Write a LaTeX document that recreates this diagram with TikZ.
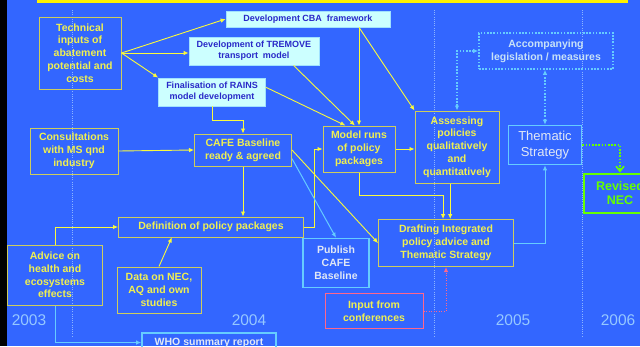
\documentclass[tikz,border=0pt]{standalone}
\usepackage{fontspec}
\setmainfont{Liberation Sans}
\usetikzlibrary{arrows.meta,calc}

\definecolor{bgblue}{RGB}{51,102,255}
\definecolor{txtyellow}{RGB}{240,240,80}
\definecolor{boxyellow}{RGB}{205,205,95}
\definecolor{linkyellow}{RGB}{250,250,60}
\definecolor{cyanfill}{RGB}{204,255,255}
\definecolor{cyanline}{RGB}{160,225,255}
\definecolor{cyantext}{RGB}{40,40,200}
\definecolor{skyline}{RGB}{102,204,255}
\definecolor{paletext}{RGB}{225,232,245}
\definecolor{necgreen}{RGB}{102,255,0}
\definecolor{confpink}{RGB}{255,102,140}
\definecolor{guideblue}{RGB}{140,180,255}
\definecolor{yearblue}{RGB}{150,200,255}

\tikzset{
  yellowbox/.style={draw=boxyellow,line width=1pt,text=txtyellow,align=center,inner sep=0pt,
    font=\bfseries\fontsize{10.5}{12.8}\selectfont},
  cyanbox/.style={draw=cyanline,fill=cyanfill,line width=0.8pt,text=cyantext,align=center,inner sep=0pt,
    font=\bfseries\fontsize{9}{11}\selectfont},
  skybox/.style={draw=skyline,line width=1.6pt,text=paletext,align=center,inner sep=0pt,
    font=\bfseries\fontsize{10.5}{12.8}\selectfont},
  year/.style={text=yearblue,font=\fontsize{15.5}{16}\selectfont,inner sep=0pt},
  ylink/.style={draw=linkyellow,line width=0.9pt},
  slink/.style={draw=skyline,line width=1pt},
  dotlink/.style={line width=1.6pt,dash pattern=on 1.6pt off 1.6pt}
}

\begin{document}
\begin{tikzpicture}[x=1pt,y=-1pt,>={Latex[length=5pt,width=4.5pt]}]
\clip(0,0)rectangle(640,346);
\fill[bgblue](0,0)rectangle(640,346);
\fill[black](0,0)rectangle(7,346);
\fill[yellow](37,-5)rectangle(628,3);
% year guides
\foreach\gx in{72,434,582}
  \draw[guideblue,line width=0.6pt,dash pattern=on 0.6pt off 1.6pt](\gx,10)--(\gx,336);
% boxes
\node(technical)at(80,53)[yellowbox,minimum width=82,minimum height=72]{Technical\\inputs of\\abatement\\potential and\\costs};
\node(cba)at(308,19)[cyanbox,minimum width=164,minimum height=16]{Development CBA\ \ framework};
\node(tremove)at(254,51)[cyanbox,minimum width=130,minimum height=28]{Development of TREMOVE\\transport\ \ model};
\node(rains)at(212,92)[cyanbox,minimum width=107,minimum height=28]{Finalisation of RAINS\\model development};
\node(consult)at(74,151)[yellowbox,minimum width=88,minimum height=46]{Consultations\\with MS qnd\\industry};
\node(cafe)at(243,150)[yellowbox,minimum width=97,minimum height=32]{CAFE Baseline\\ready \& agreed};
\node(modelruns)at(359,149)[yellowbox,minimum width=72,minimum height=46]{Model runs\\of policy\\packages};
\node(assess)at(457,147)[yellowbox,minimum width=84,minimum height=72]{Assessing\\policies\\qualitatively\\and\\quantitatively};
\node(accomp)at(546,51)[draw=skyline,dotlink,text=paletext!80!skyline,align=center,inner sep=0pt,
  font=\bfseries\fontsize{10.5}{13}\selectfont,minimum width=134,minimum height=36]{Accompanying\\legislation / measures};
\node(thematic)at(545,145)[skybox,font=\fontsize{13}{16}\selectfont,minimum width=73,minimum height=39]{Thematic\\Strategy};
\node(revised)at(620,193)[draw=necgreen,line width=2pt,text=necgreen,align=center,inner sep=0pt,
  font=\bfseries\fontsize{12.5}{14.5}\selectfont,minimum width=72,minimum height=39]{Revised\\NEC};
\node(definition)at(211,227)[yellowbox,minimum width=185,minimum height=20]{Definition of policy packages};
\node(advice)at(55,275)[yellowbox,minimum width=95,minimum height=60]{Advice on\\health and\\ecosystems\\effects};
\node(data)at(159,290)[yellowbox,minimum width=84,minimum height=46]{Data on NEC,\\AQ and own\\studies};
\node(publish)at(336,263)[skybox,minimum width=66,minimum height=49]{Publish\\CAFE\\Baseline};
\node(drafting)at(446,243)[yellowbox,font=\bfseries\fontsize{10.5}{12.7}\selectfont,minimum width=135,minimum height=47]{Drafting Integrated\\policy advice and\\Thematic Strategy};
\node(input)at(374,311)[yellowbox,draw=confpink,minimum width=98,minimum height=35]{Input from\\conferences};
\node(who)at(209,332)[skybox,anchor=north,inner xsep=0pt,inner ysep=5pt,minimum width=134]{WHO summary report};
% years
\node(y2003)at(29,320)[year]{2003};
\node(y2004)at(249,320)[year]{2004};
\node(y2005)at(513,320)[year]{2005};
\node(y2006)at(618,320)[year]{2006};
% links
\draw[ylink,->](technical.east)--(cba.west);
\draw[ylink,->](technical.east)--(tremove.west|-technical.east);
\draw[ylink,->](technical.east)--(rains.north west);
\draw[ylink,->](rains.south)--++(0,14)-|(cafe.north);
\draw[ylink,->](consult.east)--(cafe.west);
\draw[ylink,->](cafe.south)--(cafe.south|-definition.north);
\draw[ylink,->](definition.east)--++(10,0)|-(modelruns.west);
\draw[ylink,->](cba.south-|modelruns.north)--(modelruns.north);
\draw[ylink,->](cba.south-|modelruns.north)--(assess.north west);
\draw[ylink,->](tremove.-20)--(modelruns.100);
\draw[ylink,->](rains.5)--(modelruns.120);
\draw[ylink,->](modelruns.east)--(assess.west|-modelruns.east);
\draw[ylink,->](modelruns.south)--++(0,23)-|(drafting.97);
\draw[ylink,->](assess.south-|drafting.80)--(drafting.80);
\draw[ylink,->](cafe.east)--(drafting.west);
\draw[slink,->](cafe.-10)--(publish.north);
\draw[slink,->](drafting.east)-|(thematic.south);
\draw[skyline,dotlink,<->](thematic.north)--(accomp.south-|thematic.north);
\draw[skyline,dotlink,<->](assess.north)|-(accomp.west);
\draw[necgreen,dotlink,-{Straight Barb[length=5pt,width=8pt]}](thematic.east)-|(revised.north);
\draw[confpink,line width=1pt,dash pattern=on 1pt off 1.5pt,->](input.east)-|(drafting.south);
\draw[ylink,->](data.north)--(definition.-165);
\draw[ylink,->](advice.north)|-(definition.west);
\draw[slink,->](advice.south)|-(who.west);
\end{tikzpicture}
\end{document}
